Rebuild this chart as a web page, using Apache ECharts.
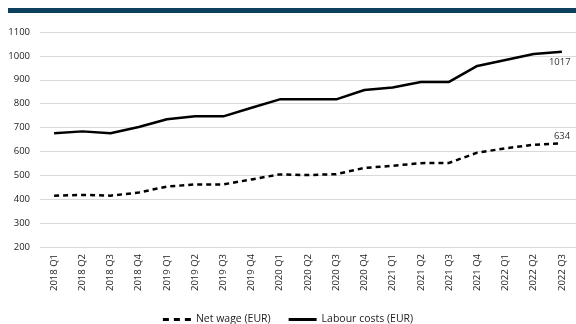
<!DOCTYPE html>
<html>
<head>
<meta charset="utf-8">
<script src="https://cdn.jsdelivr.net/npm/echarts@6/dist/echarts.min.js"></script>
<style>
  html, body { margin: 0; padding: 0; background: #fff; }
  #chart { width: 576px; height: 324px; }
</style>
</head>
<body>
<div id="chart"></div>
<script>
// Quarterly net wage and labour costs, EUR
const quarters = [
  '2018 Q1', '2018 Q2', '2018 Q3', '2018 Q4',
  '2019 Q1', '2019 Q2', '2019 Q3', '2019 Q4',
  '2020 Q1', '2020 Q2', '2020 Q3', '2020 Q4',
  '2021 Q1', '2021 Q2', '2021 Q3', '2021 Q4',
  '2022 Q1', '2022 Q2', '2022 Q3'
];
const netWage = [415, 418, 415, 428, 453, 462, 462, 483, 504, 501, 505, 531, 540, 551, 552, 595, 613, 628, 634];
const labourCosts = [676, 684, 676, 702, 735, 747, 747, 783, 818, 818, 818, 857, 868, 891, 891, 958, 983, 1008, 1017];
const yTicks = { min: 200, max: 1100, step: 100 };

// Legend keys: a dashed and a solid stroke, 28 x 3 units
const dashedKey = 'path://M0,0h6v3h-6z M11,0h6v3h-6z M22,0h6v3h-6z';
const solidKey = 'path://M0,0h28v3h-28z';

const chart = echarts.init(document.getElementById('chart'));
chart.setOption({
  animation: false,
  textStyle: { fontFamily: 'Open Sans', color: '#222' },
  graphic: [{
    type: 'rect',
    shape: { x: 8, y: 8, width: 568, height: 5 },
    style: { fill: '#0d3f5f' }
  }],
  grid: { left: 40, right: 0, top: 32, bottom: 77 },
  legend: {
    top: 309,
    left: 'center',
    itemWidth: 28,
    itemHeight: 3,
    itemGap: 18,
    textStyle: { fontSize: 10.5, color: '#222', fontFamily: 'Open Sans' },
    data: [
      { name: 'Net wage (EUR)', icon: dashedKey, itemStyle: { color: '#000' } },
      { name: 'Labour costs (EUR)', icon: solidKey, itemStyle: { color: '#000' } }
    ]
  },
  xAxis: {
    type: 'category',
    data: quarters,
    boundaryGap: true,
    axisLine: { show: false },
    axisTick: { show: false },
    axisLabel: { rotate: 90, fontSize: 9.5, color: '#222', margin: 7, interval: 0 }
  },
  yAxis: {
    type: 'value',
    min: yTicks.min,
    max: yTicks.max,
    interval: yTicks.step,
    axisLine: { show: false },
    axisTick: { show: false },
    axisLabel: { fontSize: 9.5, color: '#222', margin: 10, formatter: v => String(v) },
    splitLine: { lineStyle: { color: '#d9d9d9', width: 1 } }
  },
  series: [
    {
      name: 'Net wage (EUR)',
      type: 'line',
      data: netWage,
      symbol: 'none',
      lineStyle: { color: '#000', width: 2.5, type: [5, 4] },
      itemStyle: { color: '#000' },
      endLabel: {
        show: true,
        formatter: p => String(p.value),
        fontSize: 9.5,
        color: '#333',
        offset: [-16, -7]
      }
    },
    {
      name: 'Labour costs (EUR)',
      type: 'line',
      data: labourCosts,
      symbol: 'none',
      lineStyle: { color: '#000', width: 2.5 },
      itemStyle: { color: '#000' },
      endLabel: {
        show: true,
        formatter: p => String(p.value),
        fontSize: 9.5,
        color: '#333',
        offset: [-21, 10]
      }
    }
  ]
});
</script>
</body>
</html>
